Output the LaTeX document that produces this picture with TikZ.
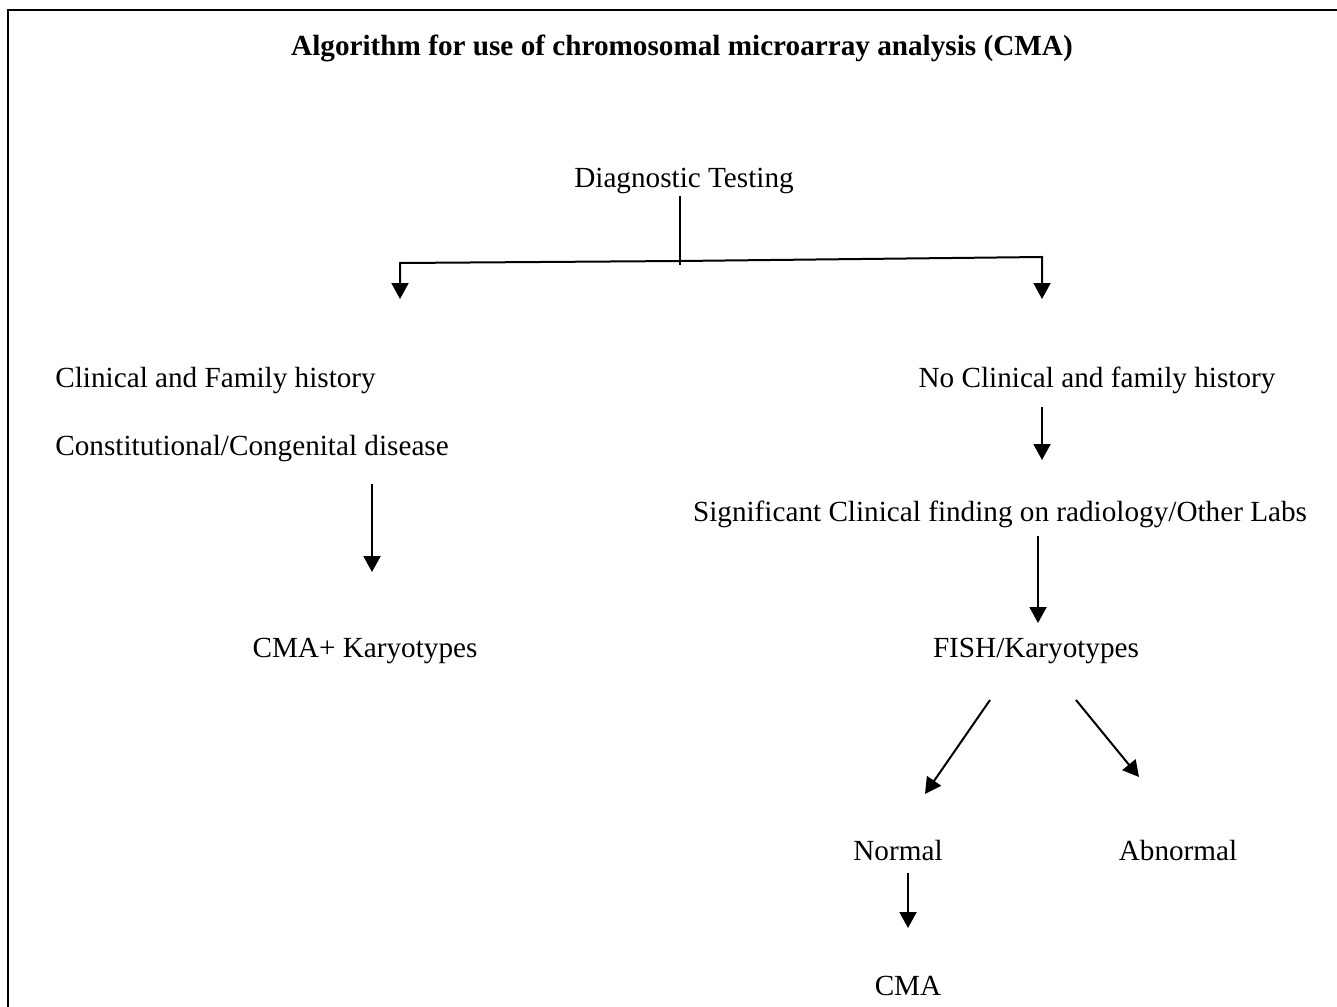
\documentclass[tikz,border=0pt]{standalone}
\usepackage{fontspec}
\setmainfont{Liberation Serif}
\usetikzlibrary{arrows.meta}
\begin{document}
\begin{tikzpicture}[x=0.5pt,y=-0.5pt,
  lbl/.style={inner sep=0pt,anchor=base,font=\fontsize{14.6}{16}\selectfont},
  arr/.style={line width=1pt,-{Triangle[length=8pt,width=8.5pt]}},
  ln/.style={line width=1pt}]
\useasboundingbox (0,0) rectangle (1337,1006);
\clip (0,0) rectangle (1337,1006);
\draw[line width=1.1pt] (8,10) rectangle (1360,1030);
\node[lbl,font=\fontsize{14.6}{16}\selectfont\bfseries] (title) at (682,56) {Algorithm for use of chromosomal microarray analysis (CMA)};
\node[lbl] (dt) at (684,187) {Diagnostic Testing};
\node[lbl,anchor=base west] (cfh) at (55,387) {Clinical and Family history};
\node[lbl,anchor=base west] (ccd) at (55,455) {Constitutional/Congenital disease};
\node[lbl] (cmak) at (365,657) {CMA+ Karyotypes};
\node[lbl] (ncfh) at (1097,387) {No Clinical and family history};
\node[lbl] (scf) at (1000,521) {Significant Clinical finding on radiology/Other Labs};
\node[lbl] (fish) at (1036,657) {FISH/Karyotypes};
\node[lbl] (norm) at (898,860) {Normal};
\node[lbl] (abn) at (1178,860) {Abnormal};
\node[lbl] (cma) at (908,995) {CMA};
% coordinates
\coordinate (dtb) at (680,196);
\coordinate (mid) at (680,265);
\coordinate (hl) at (400,263);
\coordinate (hr) at (1042,257);
\coordinate (hlE) at (400,299);
\coordinate (hrE) at (1042,299);
\coordinate (a1s) at (372,484);
\coordinate (a1e) at (372,572);
\coordinate (a2s) at (1042,407);
\coordinate (a2e) at (1042,460);
\coordinate (a3s) at (1038,536);
\coordinate (a3e) at (1038,623);
\coordinate (a4s) at (990,700);
\coordinate (a4e) at (925,794);
\coordinate (a5s) at (1076,700);
\coordinate (a5e) at (1139,777);
\coordinate (a6s) at (908,873);
\coordinate (a6e) at (908,928);
\draw[ln] (dtb) -- (mid);
\draw[arr] (680,261) -- (hl) -- (hlE);
\draw[arr] (680,261) -- (hr) -- (hrE);
\draw[arr] (a1s) -- (a1e);
\draw[arr] (a2s) -- (a2e);
\draw[arr] (a3s) -- (a3e);
\draw[arr] (a4s) -- (a4e);
\draw[arr] (a5s) -- (a5e);
\draw[arr] (a6s) -- (a6e);
\end{tikzpicture}
\end{document}
